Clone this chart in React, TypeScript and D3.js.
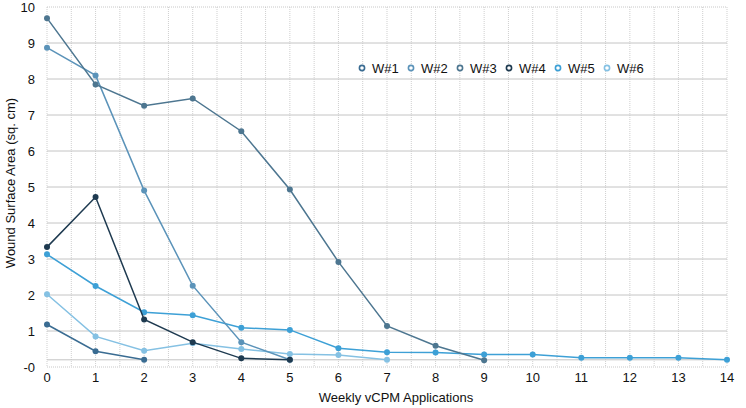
import React from "react";
import * as d3 from "d3";

const weeks = d3.range(0, 15);
const seriesNames = ["W#1", "W#2", "W#3", "W#4", "W#5", "W#6"];
const seriesColors = ["#3a6c92", "#5b93b9", "#4d7690", "#1e3a50", "#3da0d6", "#85c1e3"];
const w1 = [1.18, 0.44, 0.2];
const w2 = [8.87, 8.1, 4.9, 2.26, 0.69, 0.2];
const w3 = [9.69, 7.85, 7.26, 7.46, 6.55, 4.93, 2.92, 1.14, 0.59, 0.19];
const w4 = [3.33, 4.72, 1.32, 0.69, 0.24, 0.2];
const w5 = [3.13, 2.25, 1.52, 1.44, 1.09, 1.03, 0.52, 0.41, 0.4, 0.35, 0.35, 0.26, 0.26, 0.26, 0.2];
const w6 = [2.02, 0.85, 0.45, 0.66, 0.5, 0.36, 0.33, 0.2];
const yTicks = [0, 1, 2, 3, 4, 5, 6, 7, 8, 9, 10];
const yTickLabels = ["-0", "1", "2", "3", "4", "5", "6", "7", "8", "9", "10"];
const xTitle = "Weekly vCPM Applications";
const yTitle = "Wound Surface Area (sq. cm)";

const allSeries = [w1, w2, w3, w4, w5, w6];
// draw order: lighter first, dark later
const drawOrder = [5, 4, 1, 2, 0, 3];

export default function App() {
  const W = 746, H = 408;
  const left = 47, right = 727, top = 7, bottom = 367;
  const x = d3.scaleLinear().domain([0, 14]).range([left, right]);
  const y = d3.scaleLinear().domain([0, 10]).range([bottom, top]);
  const line = d3.line<number>().x((_, i) => x(i)).y((d) => y(d));
  const font = "'Liberation Sans', Arial, Helvetica, sans-serif";
  const halfSteps = d3.range(0, 14.01, 0.5);
  const legendX0 = 362, legendY = 68, legendStep = 49;

  return (
    <svg width={W} height={H} style={{ position: "absolute", left: 0, top: 0, background: "#fff" }} fontFamily={font}>
      {/* vertical dotted grid */}
      {halfSteps.map((v) => (
        <line key={"v" + v} x1={x(v)} x2={x(v)} y1={top} y2={bottom} stroke="#cfcfcf" strokeWidth={1} strokeDasharray="1,1" />
      ))}
      {/* horizontal grid */}
      {yTicks.filter((t) => t > 0 && t < 10).map((t) => (
        <line key={"h" + t} x1={left} x2={right} y1={y(t)} y2={y(t)} stroke="#c4c4c4" strokeWidth={1} />
      ))}
      <line x1={left} x2={right} y1={y(0.2)} y2={y(0.2)} stroke="#c4c4c4" strokeWidth={1} />
      <line x1={left} x2={right} y1={y(10)} y2={y(10)} stroke="#c8c8c8" strokeWidth={1} strokeDasharray="1,1" />
      <line x1={left} x2={right} y1={y(0)} y2={y(0)} stroke="#c8c8c8" strokeWidth={1} strokeDasharray="1,1" />

      {/* y tick labels */}
      {yTicks.map((t, i) => (
        <text key={"yt" + t} x={35} y={y(t)} dy="0.35em" textAnchor="end" fontSize={13} fill="#111">
          {yTickLabels[i]}
        </text>
      ))}
      {/* x tick labels */}
      {weeks.map((wk) => (
        <text key={"xt" + wk} x={x(wk)} y={382} textAnchor="middle" fontSize={13} fill="#111">
          {wk}
        </text>
      ))}
      <text x={396} y={402} textAnchor="middle" fontSize={13} fill="#111">{xTitle}</text>
      <text transform={`translate(15,${183}) rotate(-90)`} textAnchor="middle" fontSize={13} fill="#111">{yTitle}</text>

      {/* series */}
      {drawOrder.map((si) => (
        <g key={"s" + si}>
          <path d={line(allSeries[si]) || ""} fill="none" stroke={seriesColors[si]} strokeWidth={1.5} />
          {allSeries[si].map((v, i) => (
            <circle key={i} cx={x(i)} cy={y(v)} r={3} fill={seriesColors[si]} />
          ))}
        </g>
      ))}

      {/* legend */}
      {seriesNames.map((n, i) => (
        <g key={"l" + n} transform={`translate(${legendX0 + i * legendStep},${legendY})`}>
          <circle cx={0} cy={0} r={2.6} fill="#fff" stroke={seriesColors[i]} strokeWidth={1.6} />
          <text x={10} y={0} dy="0.35em" fontSize={13} fill="#111">{n}</text>
        </g>
      ))}
    </svg>
  );
}
